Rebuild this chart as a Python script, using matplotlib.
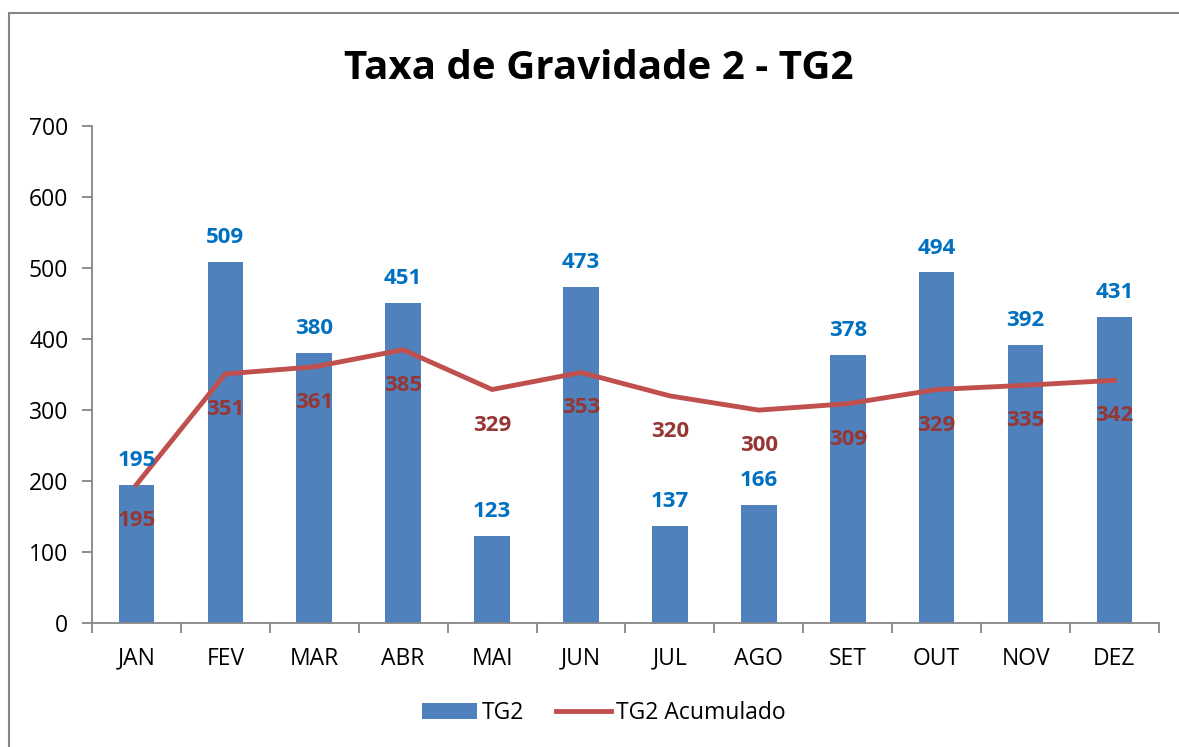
import matplotlib.pyplot as plt
from matplotlib.patches import Rectangle

meses = ["JAN", "FEV", "MAR", "ABR", "MAI", "JUN", "JUL", "AGO", "SET", "OUT", "NOV", "DEZ"]
tg2 = [195, 509, 380, 451, 123, 473, 137, 166, 378, 494, 392, 431]
tg2_acumulado = [195, 351, 361, 385, 329, 353, 320, 300, 309, 329, 335, 342]

plt.rcParams["font.family"] = ["Open Sans", "DejaVu Sans"]

fig = plt.figure(figsize=(11.79, 7.47), dpi=100)
ax = fig.add_axes([0.078, 0.166, 0.905, 0.665])

x = range(len(meses))
barras = ax.bar(x, tg2, width=0.4, color="#4F81BD", label="TG2", zorder=2)
linha, = ax.plot(x, tg2_acumulado, color="#C0504D", linewidth=3.5, label="TG2 Acumulado", zorder=3)

# rotulos das barras (acima)
for i, v in enumerate(tg2):
    ax.annotate(str(v), (i, v), xytext=(0, 10), textcoords="offset points",
                ha="center", va="bottom", color="#0070C0", fontsize=16, fontweight="bold", zorder=4)

# rotulos da linha (abaixo)
for i, v in enumerate(tg2_acumulado):
    ax.annotate(str(v), (i, v), xytext=(0, -18), textcoords="offset points",
                ha="center", va="top", color="#953735", fontsize=16, fontweight="bold", zorder=4)

ax.set_xlim(-0.5, len(meses) - 0.5)
ax.set_ylim(0, 700)
ax.set_yticks(range(0, 701, 100))
ax.set_xticks(x)
ax.set_xticklabels(meses)
ax.set_xticks([i - 0.5 for i in range(len(meses) + 1)], minor=True)
ax.tick_params(axis="x", which="major", length=0, pad=17, labelsize=16.5)
ax.tick_params(axis="x", which="minor", length=7, color="#868686", width=1.3)
ax.tick_params(axis="y", length=7, color="#868686", width=1.3, labelsize=16.5, pad=10)

for s in ["top", "right"]:
    ax.spines[s].set_visible(False)
for s in ["left", "bottom"]:
    ax.spines[s].set_color("#868686")
    ax.spines[s].set_linewidth(1.3)

fig.text(0.508, 0.908, "Taxa de Gravidade 2 - TG2", ha="center", va="center",
         fontsize=29, fontweight="bold")

fig.legend(handles=[barras, linha], loc="center", bbox_to_anchor=(0.512, 0.045), ncol=2,
           frameon=False, fontsize=16.5, handlelength=2.4, columnspacing=1.4, handletextpad=0.2)

# moldura do grafico
fig.patches.append(Rectangle((9 / 1179, -0.1), 1.2, 1 - 13 / 747 + 0.1, transform=fig.transFigure,
                             fill=False, edgecolor="#868686", linewidth=1.5, zorder=0))

plt.savefig("out.png", dpi=100)
